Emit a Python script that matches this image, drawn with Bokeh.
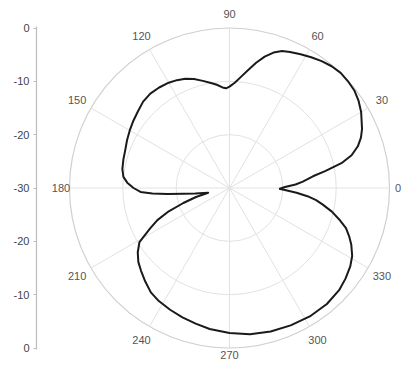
import math
from bokeh.plotting import figure
from bokeh.models import FixedTicker, Range1d
from bokeh.core.properties import value
from bokeh.embed import file_html
from bokeh.resources import INLINE

# Radiation pattern, angle (deg) -> gain (dB)
angle_deg = [359, 1, 3, 5, 8, 10, 12.5, 15, 18, 21, 24, 27, 30, 34, 38, 42, 46, 50, 54, 58,
             62, 66, 69, 72, 75, 78, 81, 84, 87, 90, 92, 94, 97, 100, 104, 108, 112, 116, 120,
             125, 130, 135, 140, 145, 150, 155, 160, 165, 170, 174, 177, 180, 182.5, 184,
             185.5, 187, 189, 192.8, 195, 198, 201, 204, 207, 211, 215, 219, 223, 228, 233,
             238, 244, 250, 256, 262, 270, 278, 286, 294, 302, 310, 317, 322, 327, 331, 335,
             338, 341, 344, 347, 350, 352, 354, 356, 358, 359]
gain_db = [-20.7, -19.6, -17.6, -16.2, -14.2, -11.8, -8.5, -6.3, -4.7, -3.6, -2.8, -2.2, -1.5,
           -0.8, -0.3, -0.1, 0.0, -0.2, -0.6, -1.1, -1.6, -2.1, -2.5, -3.3, -4.5, -6.0, -7.6,
           -9.0, -10.2, -11.0, -11.3, -11.1, -10.5, -10.0, -9.3, -8.5, -7.9, -7.5, -7.2, -7.0,
           -6.9, -7.1, -7.6, -8.0, -8.4, -8.8, -9.2, -9.4, -9.6, -10.0, -10.8, -12.0, -13.3,
           -15.5, -18.3, -21.3, -23.5, -25.9, -23.5, -20.9, -17.8, -15.2, -13.3, -10.3, -9.0,
           -8.0, -7.3, -6.4, -5.5, -5.0, -4.6, -4.2, -3.8, -3.3, -2.8, -2.3, -2.0, -1.8, -1.6,
           -1.6, -1.9, -2.4, -3.0, -3.7, -4.8, -5.8, -6.9, -8.6, -10.3, -12.3, -13.6, -15.3,
           -17.4, -19.6, -20.7]

r_min = -30          # centre of the polar plot, dB
ring_db = [-20, -10, 0]
spoke_deg = [0, 30, 60, 90, 120, 150, 180, 210, 240, 270, 300, 330]
spoke_labels = ["0", "30", "60", "90", "120", "150", "180", "210", "240", "270", "300", "330"]
axis_ticks = [-30, -20, -10, 0, 10, 20, 30]
axis_labels = ["0", "-10", "-20", "-30", "-20", "-10", "0"]

W, H = 404, 363
left = 36
cx, cy = 229, 187.5   # centre position in pixels
s = 160 / 30.0  # px per dB
p = figure(width=W, height=H, output_backend="svg", toolbar_location=None,
           x_axis_location=None, y_axis_location="left",
           x_range=Range1d(-(cx - left) / s, (W - cx) / s),
           y_range=Range1d(-(H - cy) / s, cy / s),
           min_border_left=left, min_border_right=0, min_border_top=0, min_border_bottom=0)
p.outline_line_color = None
p.grid.visible = False
p.background_fill_color = "white"

ax = p.yaxis[0]
ax.ticker = FixedTicker(ticks=axis_ticks)
ax.major_label_overrides = {t: l for t, l in zip(axis_ticks, axis_labels)}
ax.bounds = (-30.3, 30.3)
ax.axis_line_color = "#bdbdbd"
ax.axis_line_width = 1.2
ax.major_tick_line_color = "#bdbdbd"
ax.major_tick_out = 3
ax.major_tick_in = 0
ax.minor_tick_line_color = None
ax.major_label_standoff = 4
ax.major_label_text_font = "Liberation Sans"
ax.major_label_text_font_size = "11px"
ax.major_label_text_color = "#444444"

# grid rings
rad = [d - r_min for d in ring_db]
p.circle(x=[0, 0], y=[0, 0], radius=rad[:2], fill_color=None, line_color="#e2e2e2", line_width=1)
p.circle(x=[0], y=[0], radius=[rad[2]], fill_color=None, line_color="#cfcfcf", line_width=1.2)

# spokes
R = -r_min
xs = [[0, R * math.cos(math.radians(a))] for a in spoke_deg]
ys = [[0, R * math.sin(math.radians(a))] for a in spoke_deg]
p.multi_line(xs, ys, line_color="#e2e2e2", line_width=1)

# angle labels
lab_r = []
for a in spoke_deg:
    if a in (0, 180):
        lab_r.append(R + 1.6)
    elif a == 270:
        lab_r.append(R + 1.3)
    elif a == 90:
        lab_r.append(R + 2.7)
    else:
        lab_r.append(R + 3.0)
lx = [rr * math.cos(math.radians(a)) for rr, a in zip(lab_r, spoke_deg)]
ly = [rr * math.sin(math.radians(a)) for rr, a in zip(lab_r, spoke_deg)]
p.text(x=lx, y=ly, text=spoke_labels, text_align="center", text_baseline="middle",
       text_font=value("Liberation Sans"), text_font_size="11px", text_color="#555555")

# pattern
px = [(g - r_min) * math.cos(math.radians(a)) for a, g in zip(angle_deg, gain_db)]
py = [(g - r_min) * math.sin(math.radians(a)) for a, g in zip(angle_deg, gain_db)]
p.line(px, py, line_color="#1a1a1a", line_width=2, line_join="round")

open("out.html", "w").write(file_html(p, INLINE))
